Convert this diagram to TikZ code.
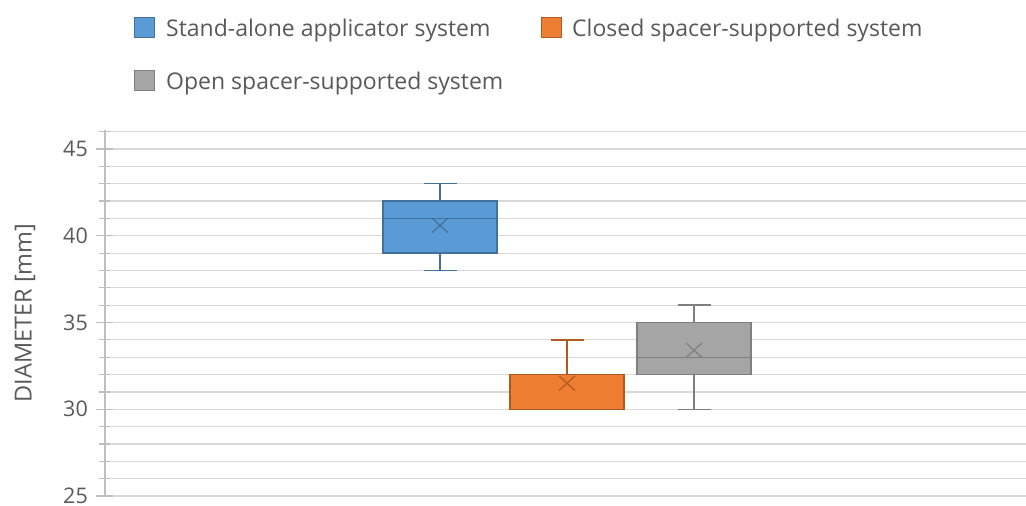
\documentclass[tikz,border=0pt]{standalone}
\usepackage{fontspec}
\setmainfont{Open Sans}
\usetikzlibrary{positioning}
\definecolor{txt}{HTML}{595959}
\definecolor{gridc}{HTML}{D9D9D9}
\definecolor{axisc}{HTML}{BFBFBF}
\definecolor{sab}{HTML}{5B9BD5}
\definecolor{sabdk}{HTML}{41719C}
\definecolor{css}{HTML}{ED7D31}
\definecolor{cssdk}{HTML}{AE5A21}
\definecolor{oss}{HTML}{A5A5A5}
\definecolor{ossdk}{HTML}{7F7F7F}
% #1 colour, #2 centre x, #3 min, #4 q1, #5 median, #6 q3, #7 max, #8 mean
\newcommand{\boxplot}[8]{%
  \draw[#1dk,line width=1.4pt] (#2,#3) -- (#2,#7);
  \draw[#1dk,line width=1.4pt] (#2-16.5,#3) -- (#2+16.5,#3);
  \draw[#1dk,line width=1.4pt] (#2-16.5,#7) -- (#2+16.5,#7);
  \draw[#1dk,line width=1.4pt,fill=#1] (#2-57,#4) rectangle (#2+57,#6);
  \draw[#1dk,line width=1.4pt] (#2-57,#5) -- (#2+57,#5);
  \draw[#1dk,line width=1.2pt] (#2-8,#8-0.42) -- (#2+8,#8+0.42)
                               (#2-8,#8+0.42) -- (#2+8,#8-0.42);}
\tikzset{
  lbl/.style={font=\fontsize{23}{27}\selectfont,text=txt,inner sep=0pt},
  ticklbl/.style={font=\fontsize{21.5}{25}\selectfont,text=txt,inner sep=0pt},
  swatch/.style={minimum size=20pt,inner sep=0pt,line width=1pt}
}

\begin{document}
\begin{tikzpicture}[x=1pt,y=-1pt]
  \useasboundingbox (0,0) rectangle (1026,506);

  % Legend
  \node[swatch,fill=sab,draw=sabdk] (legsab) at (144,27) {};
  \node[lbl,anchor=base west] (legsabt) at (166,36.5) {Stand-alone applicator system};
  \node[swatch,fill=css,draw=cssdk] (legcss) at (551,27) {};
  \node[lbl,anchor=base west] (legcsst) at (572,36.5) {Closed spacer-supported system};
  \node[swatch,fill=oss,draw=ossdk] (legoss) at (144,80) {};
  \node[lbl,anchor=base west] (legosst) at (166,89.5) {Open spacer-supported system};

  % Axis label
  \node[lbl,font=\fontsize{23.5}{27}\selectfont,rotate=90] (ylabel) at (25,313)
       {DIAMETER [mm]};

  \begin{scope}[yshift=-929.75pt,y=17.35pt]
    % Grid and ticks
    \foreach \v in {25,...,46}{
      \draw[gridc,line width=1.2pt] (105,\v) -- (1026,\v);
      \draw[axisc,line width=1.2pt] (99,\v) -- (110,\v);}
    \foreach \v in {25,30,...,45}{
      \draw[axisc,line width=1.4pt] (96,\v) -- (113,\v);
      \node[ticklbl,anchor=east] (tick\v) at (88,\v) {\v};}
    \draw[axisc,line width=1.4pt] (105,25) -- (105,46.1);

    % Boxes
    \boxplot{sab}{440}{38}{39}{41}{42}{43}{40.6}
    \boxplot{css}{567}{30}{30}{30}{32}{34}{31.5}
    \boxplot{oss}{694}{30}{32}{33}{35}{36}{33.4}
  \end{scope}
\end{tikzpicture}
\end{document}
